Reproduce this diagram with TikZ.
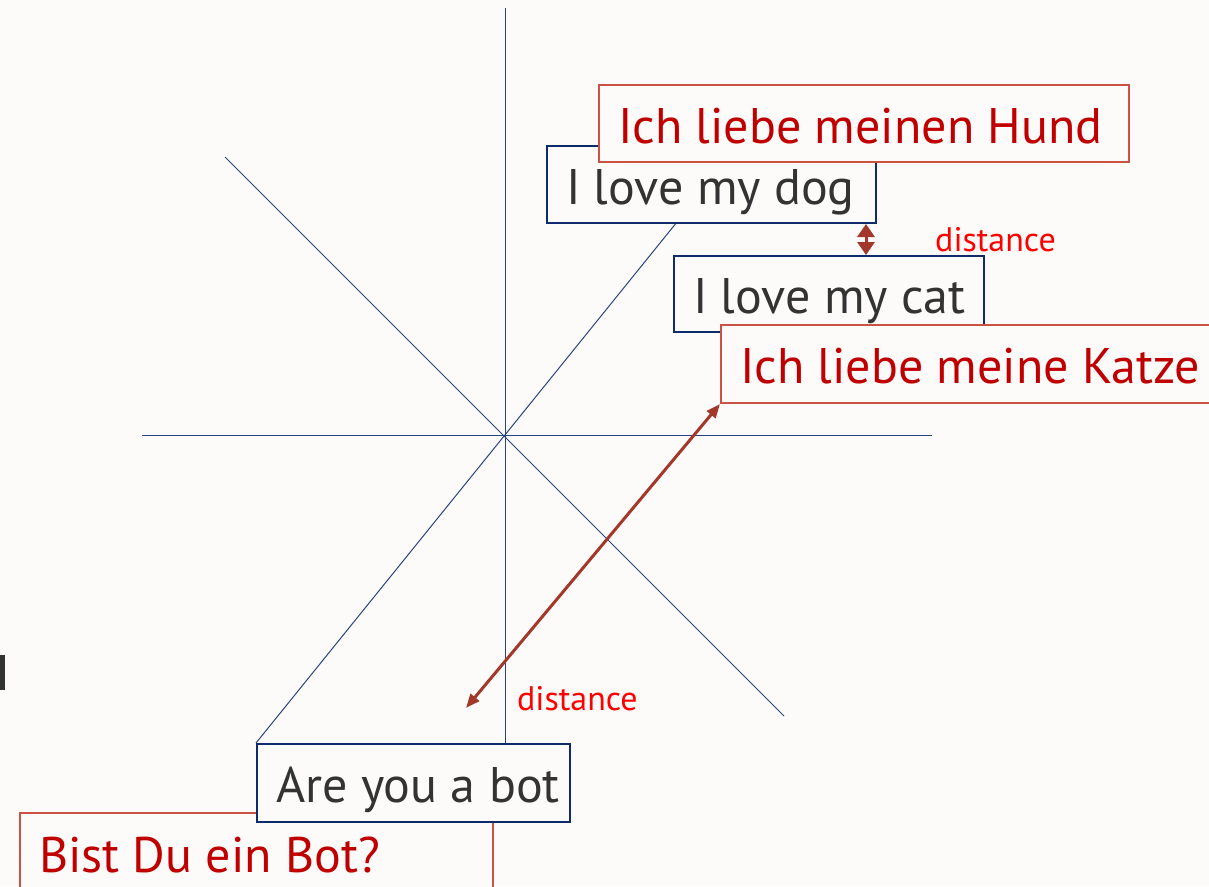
\documentclass[tikz,border=0pt]{standalone}
\usepackage{fontspec}
\setmainfont{PT Sans}
\usetikzlibrary{arrows.meta}
\definecolor{bg}{HTML}{FCFBFA}
\definecolor{axis}{HTML}{2A4480}
\definecolor{navy}{HTML}{0E2C6C}
\definecolor{redline}{HTML}{CC5244}
\definecolor{redtext}{HTML}{C00000}
\definecolor{ink}{HTML}{333333}
\definecolor{arrowred}{HTML}{A3382A}
\definecolor{label}{HTML}{FF0000}
\pgfdeclarelayer{background}
\pgfsetlayers{background,main}
\tikzset{
  axisline/.style={draw=axis, line width=1pt},
  sentence/.style={fill=bg, line width=2pt, inner xsep=19pt, inner ysep=0pt,
    minimum height=77pt, text height=39pt, text depth=0pt,
    anchor=north west, font=\fontsize{50}{60}\selectfont},
  enbox/.style={sentence, draw=navy, text=ink},
  debox/.style={sentence, draw=redline, text=redtext},
  gap/.style={draw=arrowred, line width=3pt, {Triangle[length=13pt,width=17pt]}-{Triangle[length=13pt,width=17pt]}},
  farapart/.style={draw=arrowred, line width=3pt, {Triangle[length=14pt,width=11pt]}-{Triangle[length=14pt,width=11pt]}},
  distlabel/.style={text=label, anchor=base west, inner sep=0pt, font=\fontsize{34}{40}\selectfont}
}
% left-aligned box content of a fixed width
\newcommand\fixedline[2]{\makebox[#1pt][l]{#2}}
\begin{document}
\begin{tikzpicture}[x=1pt,y=-1pt]
  \useasboundingbox (0,0) rectangle (1209,886);
  \clip (0,0) rectangle (1209,886);

  % sentence boxes, German drawn over English
  \node[enbox] (dog) at (546,145) {\fixedline{291}{I love my dog}};
  \node[debox] (hund) at (598,84) {\fixedline{492}{Ich liebe meinen Hund}};
  \node[enbox, minimum height=76pt] (cat) at (673,255) {\fixedline{272}{I love my cat}};
  \node[debox, minimum height=78pt] (katze) at (720,324) {\fixedline{482}{Ich liebe meine Katze}};
  \node[debox, minimum height=80pt] (bist) at (19,812) {\fixedline{435}{Bist Du ein Bot?}};
  \node[enbox, minimum height=78pt] (bot) at (256,743) {\fixedline{275}{Are you a bot}};

  % axes through the origin, behind the boxes
  \coordinate (o) at (505,435);
  \coordinate (vtop) at (505,8);
  \coordinate (hl) at (142,435);
  \coordinate (hr) at (932,435);
  \coordinate (d1a) at (225,157);
  \coordinate (d1b) at (784,716);
  \coordinate (d2b) at (677,222);
  \begin{pgfonlayer}{background}
    \fill[bg] (0,0) rectangle (1209,886);
    \draw[axisline] (vtop) -- (o |- bot.north);
    \draw[axisline] (hl) -- (hr);
    \draw[axisline] (d1a) -- (d1b);
    \draw[axisline] (bot.north west) -- (d2b);
  \end{pgfonlayer}

  % distances
  \draw[gap] ([xshift=-11pt]dog.south east) -- ([xshift=-11pt]dog.south east |- cat.north);
  \coordinate (far) at (466,708);
  \draw[farapart] (far) -- (katze.south west);
  \node[distlabel] (dnear) at (935,251) {distance};
  \node[distlabel] (dfar) at (517,710) {distance};

  % cut-off glyph at the left edge
  \fill[ink] (0,655) rectangle (5,690);
\end{tikzpicture}
\end{document}
